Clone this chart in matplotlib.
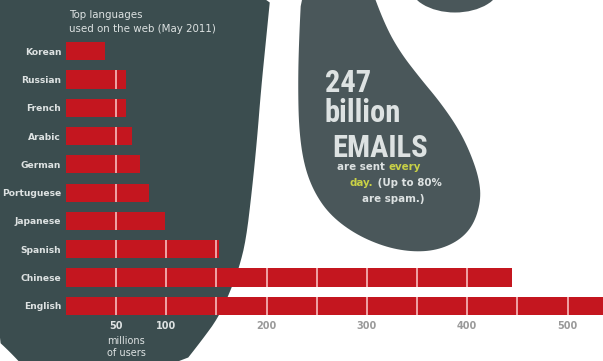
import matplotlib
matplotlib.use("Agg")
import matplotlib.pyplot as plt
from matplotlib.patches import Polygon, Ellipse
from matplotlib import font_manager
import numpy as np

# ---- data ----
languages = ["Korean", "Russian", "French", "Arabic", "German",
             "Portuguese", "Japanese", "Spanish", "Chinese", "English"]
users = [39, 60, 60, 66, 74, 83, 99, 153, 445, 565]
tick_values = [50, 100, 200, 300, 400, 500]
tick_labels = ["50", "100", "200", "300", "400", "500"]
grid_step = 50
title_lines = ["Top languages", "used on the web (May 2011)"]
unit_lines = ["millions", "of users"]


def pick_font(cands):
    for c in cands:
        try:
            font_manager.findfont(font_manager.FontProperties(family=c),
                                  fallback_to_default=False)
            return c
        except Exception:
            pass
    return "DejaVu Sans"


COND = pick_font(["Roboto Condensed", "Liberation Sans Narrow", "DejaVu Sans Condensed",
                  "Open Sans Condensed", "Noto Sans Condensed", "Liberation Sans"])

W, H = 603, 361
fig = plt.figure(figsize=(W / 100, H / 100), dpi=100)
fig.patch.set_facecolor("white")

SLATE = "#3b4d4f"
SLATE2 = "#4a575a"
RED = "#c4161f"
LIGHT = "#dde2e2"
YEL = "#c9d146"


def chaikin(pts, it=3, closed=True):
    p = np.asarray(pts, float)
    for _ in range(it):
        q = np.roll(p, -1, axis=0) if closed else p[1:]
        a = p if closed else p[:-1]
        new = np.empty((2 * len(a), 2))
        new[0::2] = 0.75 * a + 0.25 * q
        new[1::2] = 0.25 * a + 0.75 * q
        p = new
    return p


# ---- background shapes (pixel space) ----
bg = fig.add_axes([0, 0, 1, 1])
bg.set_xlim(0, W)
bg.set_ylim(H, 0)
bg.axis("off")

main_shape = [(0, -20), (272, -20), (266, 40), (261, 90), (257, 140), (252, 190),
              (246, 240), (239, 268), (230, 292), (218, 318), (202, 340),
              (180, 368), (25, 368), (10, 352), (-5, 338), (-5, -20)]
bg.add_patch(Polygon(chaikin(main_shape, 2), closed=True, facecolor=SLATE, edgecolor="none"))

drop = [(302, -20), (368, -20), (385, 25), (400, 52), (420, 78), (440, 102),
        (458, 128), (470, 152), (479, 178), (481, 200), (474, 224),
        (460, 240), (438, 250), (413, 252), (385, 247), (355, 234),
        (330, 215), (314, 192), (304, 165), (299, 130), (298, 85),
        (299, 40)]
bg.add_patch(Polygon(chaikin(drop, 3), closed=True, facecolor=SLATE2, edgecolor="none"))
bg.add_patch(Ellipse((455, -16), 92, 57, facecolor=SLATE2, edgecolor="none"))

# title
bg.text(69, 15, title_lines[0], color=LIGHT, fontsize=7.4, va="center", ha="left")
bg.text(69, 29, title_lines[1], color=LIGHT, fontsize=7.4, va="center", ha="left")

# email text
big = dict(color=LIGHT, fontweight="bold", fontsize=22,
           family=[COND, "DejaVu Sans"], ha="left", va="baseline")
bg.text(325, 92, "247", **big)
bg.text(325, 122, "billion", **big)
bg.text(332, 157, "EMAILS", **big)

sm = dict(fontsize=7.4, fontweight="bold", va="center", ha="left")
renderer = fig.canvas.get_renderer()


def chain(x, y, parts):
    for txt, col in parts:
        t = bg.text(x, y, txt, color=col, **sm)
        bb = t.get_window_extent(renderer=renderer)
        x += bb.width * (W / fig.bbox.width)


chain(337, 167, [("are sent ", LIGHT), ("every", YEL)])
chain(350, 183, [("day.", YEL), (" (Up to 80%", LIGHT)])
chain(362, 199, [("are spam.)", LIGHT)])

# ---- bar chart ----
x0_px, px_per_unit = 66, 1.003
top_px, row_px = 37, 28.3
n = len(languages)
ax = fig.add_axes([x0_px / W, 1 - (top_px + n * row_px) / H,
                   1 - x0_px / W, n * row_px / H])
ax.set_xlim(0, (W - x0_px) / px_per_unit)
ax.set_ylim(n - 0.5, -0.5)
ax.patch.set_alpha(0)
for s in ax.spines.values():
    s.set_visible(False)

ypos = np.arange(n)
bar_h = 0.64
ax.barh(ypos, users, height=bar_h, color=RED, edgecolor="none", zorder=2)
for y, v in zip(ypos, users):
    g = grid_step
    while g < v:
        ax.plot([g, g], [y - bar_h / 2, y + bar_h / 2], color="#f0a3a6",
                lw=1.4, solid_capstyle="butt", zorder=3)
        g += grid_step

ax.set_yticks(ypos)
ax.set_yticklabels(languages)
ax.tick_params(axis="y", length=0, pad=3.5, labelsize=6.6, labelcolor=LIGHT)
for t in ax.get_yticklabels():
    t.set_fontweight("bold")

ax.set_xticks(tick_values)
ax.set_xticklabels(tick_labels)
ax.tick_params(axis="x", length=0, pad=0.5, labelsize=7)
for t, v in zip(ax.get_xticklabels(), tick_values):
    t.set_fontweight("bold")
    t.set_color(LIGHT if v <= 100 else "#9a9a9a")

bg.text(107, 341, unit_lines[0], color=LIGHT, fontsize=7, va="center", ha="left")
bg.text(107, 353, unit_lines[1], color=LIGHT, fontsize=7, va="center", ha="left")

fig.savefig("out.png", dpi=100, facecolor="white")
